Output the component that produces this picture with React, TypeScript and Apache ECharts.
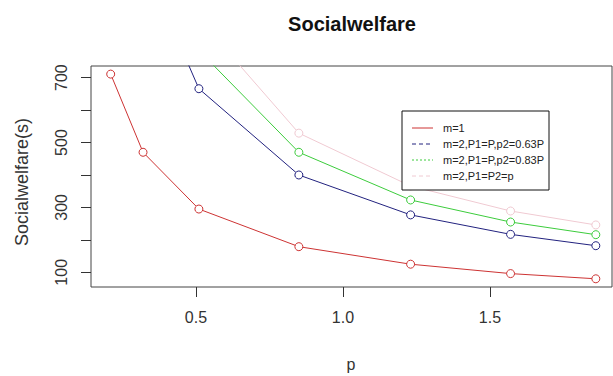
import React, { useEffect, useRef } from "react";
import * as echarts from "echarts";

const pValues = [0.21, 0.32, 0.51, 0.85, 1.23, 1.57, 1.86];
const seriesM1 = [711, 470, 295, 179, 125, 96, 80];
const seriesP063 = [null, 1062, 666, 400, 277, 217, 182];
const seriesP083 = [null, null, 784, 470, 323, 255, 216];
const seriesEqual = [null, null, 882, 529, 366, 289, 246];
const legendNames = ["m=1", "m=2,P1=P,p2=0.63P", "m=2,P1=P,p2=0.83P", "m=2,P1=P2=p"];
const colors = ["#cd3333", "#22227f", "#3ccc3c", "#f0cad2"];
const legendDash = [null, [4, 3], [2, 2], [4, 3]];
const xTicks = [0.5, 1.0, 1.5];
const yTicks = [100, 200, 300, 400, 500, 600, 700];
const yLabels = [100, 300, 500, 700];

const FONT = "Liberation Sans, Arial, Helvetica, sans-serif";

export default function App() {
  const ref = useRef<HTMLDivElement>(null);
  useEffect(() => {
    if (!ref.current) return;
    const chart = echarts.init(ref.current, null, { renderer: "svg" });
    const all = [seriesM1, seriesP063, seriesP083, seriesEqual];
    const series = all.map((vals, i) => ({
      name: legendNames[i],
      type: "line",
      data: pValues
        .map((p, j) => [p, vals[j]])
        .filter((d) => d[1] !== null),
      symbol: "circle",
      symbolSize: 8,
      lineStyle: { color: colors[i], width: 1 },
      itemStyle: { color: "#fff", borderColor: colors[i], borderWidth: 1 },
      emphasis: { disabled: true },
      clip: true,
      z: 2 + i,
    }));

    const lx0 = 402, ly0 = 111, lw = 147, lh = 79;
    const legendGraphics: any[] = [
      {
        type: "rect",
        shape: { x: lx0, y: ly0, width: lw, height: lh },
        style: { fill: "#fff", stroke: "#111", lineWidth: 1 },
        z: 100,
      },
    ];
    legendNames.forEach((name, i) => {
      const y = 128 + i * 16;
      legendGraphics.push({
        type: "line",
        shape: { x1: 412, y1: y, x2: 433, y2: y },
        style: { stroke: colors[i], lineWidth: 1, lineDash: legendDash[i] || undefined },
        z: 101,
      });
      legendGraphics.push({
        type: "text",
        x: 443,
        y: y,
        style: {
          text: name,
          fill: "#222",
          font: `11px ${FONT}`,
          verticalAlign: "middle",
        },
        z: 101,
      });
    });

    chart.setOption({
      animation: false,
      backgroundColor: "#fff",
      grid: {
        left: 91,
        top: 66,
        width: 521,
        height: 221,
        show: true,
        borderColor: "#444",
        borderWidth: 1,
        backgroundColor: "transparent",
      },
      xAxis: {
        type: "value",
        min: 0.143,
        max: 1.915,
        axisLine: { show: false },
        splitLine: { show: false },
        axisTick: {
          show: true,
          length: 10,
          inside: false,
          customValues: xTicks,
          lineStyle: { color: "#333" },
        },
        axisLabel: {
          customValues: xTicks,
          formatter: (v: number) => v.toFixed(1),
          fontFamily: FONT,
          fontSize: 16,
          color: "#333",
          margin: 22,
        },
      },
      yAxis: {
        type: "value",
        min: 54.7,
        max: 736,
        axisLine: { show: false },
        splitLine: { show: false },
        axisTick: {
          show: true,
          length: 10,
          inside: false,
          customValues: yTicks,
          lineStyle: { color: "#333" },
        },
        axisLabel: {
          customValues: yLabels,
          rotate: 90,
          fontFamily: FONT,
          fontSize: 16,
          color: "#333",
          margin: 22,
        },
      },
      series,
      graphic: [
        {
          type: "text",
          x: 352,
          y: 24,
          style: {
            text: "Socialwelfare",
            font: `bold 20px ${FONT}`,
            fill: "#111",
            align: "center",
            verticalAlign: "middle",
          },
        },
        {
          type: "text",
          x: 351,
          y: 364,
          style: {
            text: "p",
            font: `16px ${FONT}`,
            fill: "#333",
            align: "center",
            verticalAlign: "middle",
          },
        },
        {
          type: "text",
          x: 22,
          y: 182,
          rotation: Math.PI / 2,
          style: {
            text: "Socialwelfare(s)",
            font: `18px ${FONT}`,
            fill: "#333",
            align: "center",
            verticalAlign: "middle",
          },
        },
        ...legendGraphics,
      ],
    });
    return () => chart.dispose();
  }, []);
  return (
    <div
      ref={ref}
      style={{ position: "fixed", left: 0, top: 0, width: 613, height: 376, background: "#fff" }}
    />
  );
}
